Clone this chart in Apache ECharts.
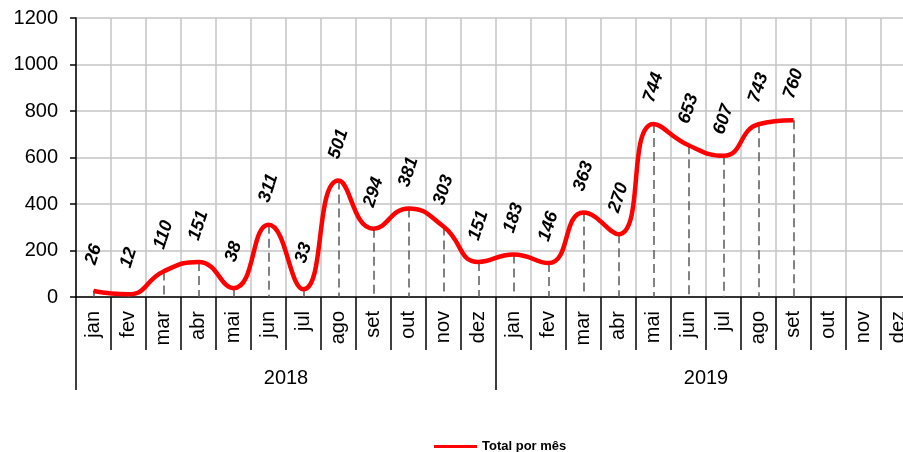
<!DOCTYPE html>
<html>
<head>
<meta charset="utf-8">
<script src="https://cdn.jsdelivr.net/npm/echarts@6/dist/echarts.min.js"></script>
<style>
  html, body { margin: 0; padding: 0; background: #fff; }
  #main { width: 903px; height: 452px; }
</style>
</head>
<body>
<div id="main"></div>
<script>
// meses e anos
const meses = ['jan', 'fev', 'mar', 'abr', 'mai', 'jun', 'jul', 'ago', 'set', 'out', 'nov', 'dez'];
const anos = ['2018', '2019'];
const categorias = anos.flatMap(() => meses);

// totais por mês
const total2018 = [26, 12, 110, 151, 38, 311, 33, 501, 294, 381, 303, 151];
const total2019 = [183, 146, 363, 270, 744, 653, 607, 743, 760, null, null, null];
const totalPorMes = total2018.concat(total2019);

const fonte = 'Liberation Sans, Arial, sans-serif';

// linhas tracejadas do ponto até o eixo
const linhasVerticais = totalPorMes
  .map((v, i) => (v == null ? null : [{ coord: [i, v] }, { coord: [i, 0] }]))
  .filter(Boolean);

const config = {
  animation: false,
  textStyle: { fontFamily: fonte },
  // a área do gráfico passa da borda direita (último mês cortado)
  grid: { left: 76, top: 18, width: 840, bottom: 155, containLabel: false, outerBoundsMode: 'none' },
  legend: {
    left: 429,
    top: 435,
    data: ['Total por mês'],
    icon: 'rect',
    itemWidth: 43,
    itemHeight: 3,
    itemGap: 6,
    textStyle: { fontSize: 13, fontWeight: 'bold', color: '#000', fontFamily: fonte },
  },
  xAxis: [
    {
      type: 'category',
      data: categorias,
      boundaryGap: true,
      axisLine: { lineStyle: { color: '#000', width: 1.5 } },
      axisTick: { show: true, length: 53, lineStyle: { color: '#000', width: 1.5 } },
      axisLabel: { rotate: 90, margin: 14, fontSize: 20, color: '#000', interval: 0, fontFamily: fonte },
      splitLine: { show: true, interval: 0, lineStyle: { color: '#c4c4c4', width: 1.5 } },
    },
    {
      type: 'category',
      data: anos,
      position: 'bottom',
      axisLine: { show: false },
      axisTick: { show: true, length: 93, lineStyle: { color: '#000', width: 1.5 } },
      axisLabel: { margin: 71, fontSize: 20, color: '#000', fontFamily: fonte },
      splitLine: { show: false },
    },
  ],
  yAxis: {
    type: 'value',
    min: 0,
    max: 1200,
    interval: 200,
    axisLine: { show: true, lineStyle: { color: '#000', width: 1.5 } },
    axisTick: { show: true, length: 6, lineStyle: { color: '#000', width: 1.5 } },
    axisLabel: { margin: 18, fontSize: 20, color: '#000', fontFamily: fonte, formatter: v => String(v) },
    splitLine: { show: true, lineStyle: { color: '#c4c4c4', width: 1.5 } },
  },
  series: [
    {
      name: 'Total por mês',
      type: 'line',
      data: totalPorMes,
      smooth: 0.5,
      symbol: 'circle',
      symbolSize: 1,
      showSymbol: true,
      connectNulls: false,
      itemStyle: { color: '#ff0000' },
      lineStyle: { color: '#ff0000', width: 4.5 },
      z: 5,
      label: {
        show: true,
        position: 'top',
        distance: 36,
        rotate: 72,
        align: 'center',
        verticalAlign: 'middle',
        fontSize: 18,
        fontWeight: 'bold',
        fontStyle: 'italic',
        color: '#000',
        fontFamily: fonte,
      },
      markLine: {
        silent: true,
        symbol: 'none',
        label: { show: false },
        lineStyle: { color: '#5a5a5a', type: [9, 5], width: 1.5 },
        data: linhasVerticais,
        z: 3,
      },
    },
  ],
};

const myChart = echarts.init(document.getElementById('main'));
myChart.setOption(config);
</script>
</body>
</html>
